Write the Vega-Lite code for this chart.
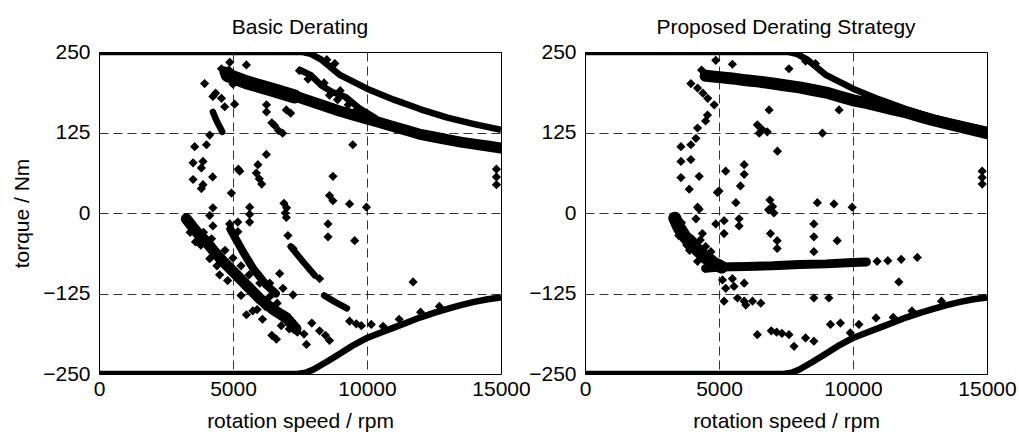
{
  "$schema": "https://vega.github.io/schema/vega-lite/v6.json",
  "background": "white",
  "padding": {"left": 11, "top": 16, "right": 10, "bottom": 2},
  "bounds": "flush",
  "spacing": 84,
  "config": {
    "font": "Liberation Sans",
    "view": {"stroke": "black", "strokeWidth": 1},
    "axis": {
      "domain": false, "ticks": false, "tickSize": 0, "labelFlush": false, "format": "d",
      "grid": true, "gridColor": "black", "gridDash": [9, 5], "gridWidth": 0.8, "gridOpacity": 1,
      "labelFontSize": 21, "labelColor": "black", "labelPadding": 9,
      "titleFontSize": 21, "titleFontWeight": "normal", "titleColor": "black"
    },
    "axisX": {"labelPadding": 4, "titlePadding": 11},
    "axisY": {"titlePadding": 10},
    "title": {"fontSize": 21, "fontWeight": "normal", "color": "black", "offset": 3}
  },
  "datasets": {
    "limits": [
      {"series": "upper", "rpm": 0, "torque": 250}, {"series": "upper", "rpm": 7600, "torque": 250},
      {"series": "upper", "rpm": 7900, "torque": 247}, {"series": "upper", "rpm": 8300, "torque": 238},
      {"series": "upper", "rpm": 9000, "torque": 214}, {"series": "upper", "rpm": 10000, "torque": 193},
      {"series": "upper", "rpm": 11000, "torque": 176}, {"series": "upper", "rpm": 12000, "torque": 161},
      {"series": "upper", "rpm": 13000, "torque": 148}, {"series": "upper", "rpm": 14000, "torque": 138},
      {"series": "upper", "rpm": 15000, "torque": 129},
      {"series": "lower", "rpm": 0, "torque": -250}, {"series": "lower", "rpm": 7400, "torque": -250},
      {"series": "lower", "rpm": 7700, "torque": -248}, {"series": "lower", "rpm": 8000, "torque": -243},
      {"series": "lower", "rpm": 8500, "torque": -231}, {"series": "lower", "rpm": 9000, "torque": -218},
      {"series": "lower", "rpm": 9500, "torque": -205}, {"series": "lower", "rpm": 10000, "torque": -194},
      {"series": "lower", "rpm": 10500, "torque": -186}, {"series": "lower", "rpm": 11000, "torque": -178},
      {"series": "lower", "rpm": 11500, "torque": -170}, {"series": "lower", "rpm": 12000, "torque": -162},
      {"series": "lower", "rpm": 12500, "torque": -155}, {"series": "lower", "rpm": 13000, "torque": -149},
      {"series": "lower", "rpm": 13500, "torque": -143}, {"series": "lower", "rpm": 14000, "torque": -138},
      {"series": "lower", "rpm": 14500, "torque": -134}, {"series": "lower", "rpm": 15000, "torque": -131}
    ],
    "bands": [
      {"panel": "L", "series": "derate", "rpm": 4700, "torque": 219}, {"panel": "L", "series": "derate", "rpm": 5000, "torque": 211},
      {"panel": "L", "series": "derate", "rpm": 5500, "torque": 204}, {"panel": "L", "series": "derate", "rpm": 6000, "torque": 198},
      {"panel": "L", "series": "derate", "rpm": 6500, "torque": 192}, {"panel": "L", "series": "derate", "rpm": 7000, "torque": 186},
      {"panel": "L", "series": "derate", "rpm": 7500, "torque": 179}, {"panel": "L", "series": "derate", "rpm": 8000, "torque": 172},
      {"panel": "L", "series": "derate", "rpm": 8500, "torque": 165}, {"panel": "L", "series": "derate", "rpm": 9000, "torque": 158},
      {"panel": "L", "series": "derate", "rpm": 9500, "torque": 152}, {"panel": "L", "series": "derate", "rpm": 10000, "torque": 146},
      {"panel": "L", "series": "derate", "rpm": 10500, "torque": 140}, {"panel": "L", "series": "derate", "rpm": 11000, "torque": 134},
      {"panel": "L", "series": "derate", "rpm": 11500, "torque": 128}, {"panel": "L", "series": "derate", "rpm": 12000, "torque": 122},
      {"panel": "L", "series": "derate", "rpm": 12500, "torque": 118}, {"panel": "L", "series": "derate", "rpm": 13000, "torque": 114},
      {"panel": "L", "series": "derate", "rpm": 13500, "torque": 110}, {"panel": "L", "series": "derate", "rpm": 14000, "torque": 107},
      {"panel": "L", "series": "derate", "rpm": 14500, "torque": 104}, {"panel": "L", "series": "derate", "rpm": 15000, "torque": 101},
      {"panel": "L", "series": "deratehead", "rpm": 4800, "torque": 214}, {"panel": "L", "series": "deratehead", "rpm": 5500, "torque": 203},
      {"panel": "L", "series": "deratehead", "rpm": 6500, "torque": 191}, {"panel": "L", "series": "deratehead", "rpm": 7300, "torque": 181},
      {"panel": "L", "series": "stripe", "rpm": 7500, "torque": 222}, {"panel": "L", "series": "stripe", "rpm": 7900, "torque": 214},
      {"panel": "L", "series": "stripe", "rpm": 8300, "torque": 198}, {"panel": "L", "series": "stripe", "rpm": 8700, "torque": 188},
      {"panel": "L", "series": "stripe", "rpm": 9200, "torque": 180}, {"panel": "L", "series": "stripe", "rpm": 9700, "torque": 163},
      {"panel": "L", "series": "stripe", "rpm": 10300, "torque": 148},
      {"panel": "L", "series": "arc", "rpm": 4250, "torque": 157}, {"panel": "L", "series": "arc", "rpm": 4400, "torque": 142},
      {"panel": "L", "series": "arc", "rpm": 4600, "torque": 126},
      {"panel": "L", "series": "ridgeA", "rpm": 3260, "torque": -9}, {"panel": "L", "series": "ridgeA", "rpm": 3500, "torque": -22},
      {"panel": "L", "series": "ridgeA", "rpm": 3700, "torque": -32}, {"panel": "L", "series": "ridgeA", "rpm": 4010, "torque": -45},
      {"panel": "L", "series": "ridgeA", "rpm": 4300, "torque": -60}, {"panel": "L", "series": "ridgeA", "rpm": 4600, "torque": -74},
      {"panel": "L", "series": "ridgeA", "rpm": 5100, "torque": -95}, {"panel": "L", "series": "ridgeA", "rpm": 5500, "torque": -112},
      {"panel": "L", "series": "ridgeA", "rpm": 6000, "torque": -133}, {"panel": "L", "series": "ridgeA", "rpm": 6500, "torque": -150},
      {"panel": "L", "series": "ridgeA", "rpm": 7000, "torque": -163}, {"panel": "L", "series": "ridgeA", "rpm": 7350, "torque": -180},
      {"panel": "L", "series": "ridgeB", "rpm": 4900, "torque": -25}, {"panel": "L", "series": "ridgeB", "rpm": 5100, "torque": -40},
      {"panel": "L", "series": "ridgeB", "rpm": 5370, "torque": -60}, {"panel": "L", "series": "ridgeB", "rpm": 5750, "torque": -86},
      {"panel": "L", "series": "ridgeB", "rpm": 6250, "torque": -112}, {"panel": "L", "series": "ridgeB", "rpm": 6600, "torque": -125},
      {"panel": "L", "series": "streak1", "rpm": 7150, "torque": -52}, {"panel": "L", "series": "streak1", "rpm": 7600, "torque": -75},
      {"panel": "L", "series": "streak1", "rpm": 8050, "torque": -97},
      {"panel": "L", "series": "streak2", "rpm": 8400, "torque": -128}, {"panel": "L", "series": "streak2", "rpm": 8800, "torque": -138},
      {"panel": "L", "series": "streak2", "rpm": 9250, "torque": -148},
      {"panel": "R", "series": "derate", "rpm": 4500, "torque": 213}, {"panel": "R", "series": "derate", "rpm": 5000, "torque": 211},
      {"panel": "R", "series": "derate", "rpm": 5500, "torque": 209}, {"panel": "R", "series": "derate", "rpm": 6000, "torque": 206},
      {"panel": "R", "series": "derate", "rpm": 6500, "torque": 204}, {"panel": "R", "series": "derate", "rpm": 7000, "torque": 201},
      {"panel": "R", "series": "derate", "rpm": 7500, "torque": 198}, {"panel": "R", "series": "derate", "rpm": 8000, "torque": 195},
      {"panel": "R", "series": "derate", "rpm": 8500, "torque": 191}, {"panel": "R", "series": "derate", "rpm": 9000, "torque": 187},
      {"panel": "R", "series": "derate", "rpm": 9500, "torque": 181}, {"panel": "R", "series": "derate", "rpm": 10000, "torque": 175},
      {"panel": "R", "series": "derate", "rpm": 10500, "torque": 171}, {"panel": "R", "series": "derate", "rpm": 11000, "torque": 166},
      {"panel": "R", "series": "derate", "rpm": 11500, "torque": 161}, {"panel": "R", "series": "derate", "rpm": 12000, "torque": 156},
      {"panel": "R", "series": "derate", "rpm": 12500, "torque": 150}, {"panel": "R", "series": "derate", "rpm": 13000, "torque": 144},
      {"panel": "R", "series": "derate", "rpm": 13500, "torque": 139}, {"panel": "R", "series": "derate", "rpm": 14000, "torque": 134},
      {"panel": "R", "series": "derate", "rpm": 14500, "torque": 129}, {"panel": "R", "series": "derate", "rpm": 15000, "torque": 124},
      {"panel": "R", "series": "hband", "rpm": 4500, "torque": -86}, {"panel": "R", "series": "hband", "rpm": 5000, "torque": -84},
      {"panel": "R", "series": "hband", "rpm": 6000, "torque": -83}, {"panel": "R", "series": "hband", "rpm": 7000, "torque": -82},
      {"panel": "R", "series": "hband", "rpm": 8000, "torque": -80}, {"panel": "R", "series": "hband", "rpm": 9000, "torque": -79},
      {"panel": "R", "series": "hband", "rpm": 10000, "torque": -77}, {"panel": "R", "series": "hband", "rpm": 10500, "torque": -76},
      {"panel": "R", "series": "curveA", "rpm": 3350, "torque": -8}, {"panel": "R", "series": "curveA", "rpm": 3500, "torque": -22},
      {"panel": "R", "series": "curveA", "rpm": 3700, "torque": -35}, {"panel": "R", "series": "curveA", "rpm": 4000, "torque": -50},
      {"panel": "R", "series": "curveA", "rpm": 4400, "torque": -65}, {"panel": "R", "series": "curveA", "rpm": 4800, "torque": -78},
      {"panel": "R", "series": "curveA", "rpm": 5100, "torque": -84}
    ],
    "pts": [
      {"panel": "L", "rpm": 4880, "torque": 234}, {"panel": "L", "rpm": 4570, "torque": 224}, {"panel": "L", "rpm": 5500, "torque": 230},
      {"panel": "L", "rpm": 4850, "torque": 222}, {"panel": "L", "rpm": 4750, "torque": 212}, {"panel": "L", "rpm": 5000, "torque": 200},
      {"panel": "L", "rpm": 3940, "torque": 201}, {"panel": "L", "rpm": 4350, "torque": 186},
      {"panel": "L", "rpm": 4250, "torque": 181}, {"panel": "L", "rpm": 4570, "torque": 178}, {"panel": "L", "rpm": 4690, "torque": 165},
      {"panel": "L", "rpm": 5060, "torque": 169}, {"panel": "L", "rpm": 6250, "torque": 168}, {"panel": "L", "rpm": 6250, "torque": 157},
      {"panel": "L", "rpm": 6990, "torque": 160}, {"panel": "L", "rpm": 7150, "torque": 155}, {"panel": "L", "rpm": 6550, "torque": 136},
      {"panel": "L", "rpm": 6700, "torque": 128}, {"panel": "L", "rpm": 6850, "torque": 124}, {"panel": "L", "rpm": 6450, "torque": 140},
      {"panel": "L", "rpm": 3570, "torque": 103}, {"panel": "L", "rpm": 4010, "torque": 106}, {"panel": "L", "rpm": 4130, "torque": 121},
      {"panel": "L", "rpm": 3510, "torque": 78}, {"panel": "L", "rpm": 3880, "torque": 80}, {"panel": "L", "rpm": 3820, "torque": 70},
      {"panel": "L", "rpm": 4240, "torque": 56}, {"panel": "L", "rpm": 3510, "torque": 52}, {"panel": "L", "rpm": 3820, "torque": 38},
      {"panel": "L", "rpm": 3880, "torque": 44}, {"panel": "L", "rpm": 5250, "torque": 65}, {"panel": "L", "rpm": 5200, "torque": 68},
      {"panel": "L", "rpm": 5930, "torque": 75}, {"panel": "L", "rpm": 5870, "torque": 62}, {"panel": "L", "rpm": 5980, "torque": 53},
      {"panel": "L", "rpm": 6070, "torque": 45}, {"panel": "L", "rpm": 4940, "torque": 31}, {"panel": "L", "rpm": 5620, "torque": 9},
      {"panel": "L", "rpm": 4250, "torque": 8}, {"panel": "L", "rpm": 6900, "torque": 15}, {"panel": "L", "rpm": 7000, "torque": 8},
      {"panel": "L", "rpm": 6950, "torque": 0}, {"panel": "L", "rpm": 6245, "torque": 91}, {"panel": "L", "rpm": 8730, "torque": 19},
      {"panel": "L", "rpm": 9350, "torque": 14}, {"panel": "L", "rpm": 9980, "torque": 9}, {"panel": "L", "rpm": 8730, "torque": 57},
      {"panel": "L", "rpm": 9470, "torque": 106}, {"panel": "L", "rpm": 8600, "torque": 27}, {"panel": "L", "rpm": 7480, "torque": 221},
      {"panel": "L", "rpm": 8500, "torque": 238}, {"panel": "L", "rpm": 8800, "torque": 232},
      {"panel": "L", "rpm": 9000, "torque": 190}, {"panel": "L", "rpm": 9300, "torque": 168}, {"panel": "L", "rpm": 9800, "torque": 152},
      {"panel": "L", "rpm": 8600, "torque": 183}, {"panel": "L", "rpm": 8900, "torque": 176}, {"panel": "L", "rpm": 9300, "torque": 176},
      {"panel": "L", "rpm": 9600, "torque": 160}, {"panel": "L", "rpm": 8400, "torque": 202}, {"panel": "L", "rpm": 7800, "torque": 208},
      {"panel": "L", "rpm": 14830, "torque": 68}, {"panel": "L", "rpm": 14830, "torque": 56}, {"panel": "L", "rpm": 14830, "torque": 44},
      {"panel": "L", "rpm": 4130, "torque": -4}, {"panel": "L", "rpm": 4250, "torque": -20}, {"panel": "L", "rpm": 4877, "torque": -17},
      {"panel": "L", "rpm": 5180, "torque": -14}, {"panel": "L", "rpm": 5180, "torque": -29}, {"panel": "L", "rpm": 5620, "torque": -14},
      {"panel": "L", "rpm": 5620, "torque": -2}, {"panel": "L", "rpm": 6990, "torque": -7}, {"panel": "L", "rpm": 7050, "torque": -35},
      {"panel": "L", "rpm": 7240, "torque": -55}, {"panel": "L", "rpm": 8545, "torque": -17}, {"panel": "L", "rpm": 8545, "torque": -37},
      {"panel": "L", "rpm": 9540, "torque": -43}, {"panel": "L", "rpm": 9350, "torque": -168}, {"panel": "L", "rpm": 9600, "torque": -172},
      {"panel": "L", "rpm": 9790, "torque": -175}, {"panel": "L", "rpm": 10160, "torque": -173}, {"panel": "L", "rpm": 10600, "torque": -176},
      {"panel": "L", "rpm": 8230, "torque": -183}, {"panel": "L", "rpm": 8450, "torque": -190}, {"panel": "L", "rpm": 8600, "torque": -198},
      {"panel": "L", "rpm": 7740, "torque": -204}, {"panel": "L", "rpm": 7940, "torque": -171}, {"panel": "L", "rpm": 6620, "torque": -196},
      {"panel": "L", "rpm": 6800, "torque": -175}, {"panel": "L", "rpm": 7100, "torque": -180}, {"panel": "L", "rpm": 7400, "torque": -185},
      {"panel": "L", "rpm": 7650, "torque": -188}, {"panel": "L", "rpm": 5740, "torque": -152}, {"panel": "L", "rpm": 6100, "torque": -165},
      {"panel": "L", "rpm": 5500, "torque": -158}, {"panel": "L", "rpm": 6865, "torque": -117}, {"panel": "L", "rpm": 7240, "torque": -127},
      {"panel": "L", "rpm": 6370, "torque": -130}, {"panel": "L", "rpm": 6000, "torque": -109}, {"panel": "L", "rpm": 6370, "torque": -109},
      {"panel": "L", "rpm": 6740, "torque": -94}, {"panel": "L", "rpm": 4130, "torque": -71}, {"panel": "L", "rpm": 8230, "torque": -102},
      {"panel": "L", "rpm": 11720, "torque": -107}, {"panel": "L", "rpm": 11200, "torque": -165}, {"panel": "L", "rpm": 12000, "torque": -154},
      {"panel": "L", "rpm": 12700, "torque": -145}, {"panel": "L", "rpm": 6450, "torque": -190}, {"panel": "L", "rpm": 4500, "torque": -96},
      {"panel": "L", "rpm": 4800, "torque": -105}, {"panel": "L", "rpm": 3600, "torque": -45}, {"panel": "L", "rpm": 3900, "torque": -30},
      {"panel": "L", "rpm": 3400, "torque": -30}, {"panel": "L", "rpm": 3800, "torque": -50}, {"panel": "L", "rpm": 4200, "torque": -40},
      {"panel": "L", "rpm": 4400, "torque": -82}, {"panel": "L", "rpm": 4700, "torque": -58}, {"panel": "L", "rpm": 5000, "torque": -70},
      {"panel": "L", "rpm": 5300, "torque": -82}, {"panel": "L", "rpm": 5600, "torque": -96}, {"panel": "L", "rpm": 5800, "torque": -122},
      {"panel": "L", "rpm": 6200, "torque": -145}, {"panel": "L", "rpm": 6650, "torque": -140}, {"panel": "L", "rpm": 5300, "torque": -128},
      {"panel": "L", "rpm": 5900, "torque": -150},
      {"panel": "R", "rpm": 3950, "torque": 201}, {"panel": "R", "rpm": 4200, "torque": 194}, {"panel": "R", "rpm": 4400, "torque": 186},
      {"panel": "R", "rpm": 4580, "torque": 178}, {"panel": "R", "rpm": 4880, "torque": 237}, {"panel": "R", "rpm": 5500, "torque": 231},
      {"panel": "R", "rpm": 4820, "torque": 168}, {"panel": "R", "rpm": 6870, "torque": 160}, {"panel": "R", "rpm": 9480, "torque": 160},
      {"panel": "R", "rpm": 4570, "torque": 152}, {"panel": "R", "rpm": 4500, "torque": 143}, {"panel": "R", "rpm": 4200, "torque": 132},
      {"panel": "R", "rpm": 4140, "torque": 116}, {"panel": "R", "rpm": 3580, "torque": 103}, {"panel": "R", "rpm": 3950, "torque": 106},
      {"panel": "R", "rpm": 3580, "torque": 80}, {"panel": "R", "rpm": 3950, "torque": 83}, {"panel": "R", "rpm": 4260, "torque": 57},
      {"panel": "R", "rpm": 3580, "torque": 55}, {"panel": "R", "rpm": 3890, "torque": 37}, {"panel": "R", "rpm": 6430, "torque": 137},
      {"panel": "R", "rpm": 6600, "torque": 130}, {"panel": "R", "rpm": 6800, "torque": 126}, {"panel": "R", "rpm": 6500, "torque": 124},
      {"panel": "R", "rpm": 7180, "torque": 96}, {"panel": "R", "rpm": 8860, "torque": 124}, {"panel": "R", "rpm": 5250, "torque": 65},
      {"panel": "R", "rpm": 5940, "torque": 75}, {"panel": "R", "rpm": 5940, "torque": 60}, {"panel": "R", "rpm": 5800, "torque": 42},
      {"panel": "R", "rpm": 4940, "torque": 32}, {"panel": "R", "rpm": 5000, "torque": 34}, {"panel": "R", "rpm": 5630, "torque": 16},
      {"panel": "R", "rpm": 4200, "torque": 9}, {"panel": "R", "rpm": 6900, "torque": 20}, {"panel": "R", "rpm": 7000, "torque": 10},
      {"panel": "R", "rpm": 7050, "torque": 0}, {"panel": "R", "rpm": 6850, "torque": 5}, {"panel": "R", "rpm": 8670, "torque": 16},
      {"panel": "R", "rpm": 9290, "torque": 14}, {"panel": "R", "rpm": 9970, "torque": 9}, {"panel": "R", "rpm": 14820, "torque": 65},
      {"panel": "R", "rpm": 14820, "torque": 55}, {"panel": "R", "rpm": 14820, "torque": 45}, {"panel": "R", "rpm": 7610, "torque": 224},
      {"panel": "R", "rpm": 8230, "torque": 236}, {"panel": "R", "rpm": 8600, "torque": 232}, {"panel": "R", "rpm": 4350, "torque": 222},
      {"panel": "R", "rpm": 4260, "torque": 6}, {"panel": "R", "rpm": 4140, "torque": -9}, {"panel": "R", "rpm": 4380, "torque": -32},
      {"panel": "R", "rpm": 4880, "torque": -17}, {"panel": "R", "rpm": 5190, "torque": -12}, {"panel": "R", "rpm": 5190, "torque": -32},
      {"panel": "R", "rpm": 5750, "torque": -9}, {"panel": "R", "rpm": 5750, "torque": -20}, {"panel": "R", "rpm": 6920, "torque": -32},
      {"panel": "R", "rpm": 7170, "torque": -43}, {"panel": "R", "rpm": 7170, "torque": -55}, {"panel": "R", "rpm": 8540, "torque": -17},
      {"panel": "R", "rpm": 8540, "torque": -37}, {"panel": "R", "rpm": 8540, "torque": -60}, {"panel": "R", "rpm": 9410, "torque": -43},
      {"panel": "R", "rpm": 11710, "torque": -107}, {"panel": "R", "rpm": 5130, "torque": -104}, {"panel": "R", "rpm": 5500, "torque": -102},
      {"panel": "R", "rpm": 5940, "torque": -109}, {"panel": "R", "rpm": 5250, "torque": -117}, {"panel": "R", "rpm": 5560, "torque": -114},
      {"panel": "R", "rpm": 5190, "torque": -137}, {"panel": "R", "rpm": 5690, "torque": -132}, {"panel": "R", "rpm": 5940, "torque": -137},
      {"panel": "R", "rpm": 6250, "torque": -137}, {"panel": "R", "rpm": 6560, "torque": -140}, {"panel": "R", "rpm": 6000, "torque": -143},
      {"panel": "R", "rpm": 8540, "torque": -132}, {"panel": "R", "rpm": 9100, "torque": -132}, {"panel": "R", "rpm": 6430, "torque": -189},
      {"panel": "R", "rpm": 6950, "torque": -183}, {"panel": "R", "rpm": 7150, "torque": -185}, {"panel": "R", "rpm": 7350, "torque": -187},
      {"panel": "R", "rpm": 7610, "torque": -189}, {"panel": "R", "rpm": 7800, "torque": -207}, {"panel": "R", "rpm": 8230, "torque": -194},
      {"panel": "R", "rpm": 8540, "torque": -199}, {"panel": "R", "rpm": 9160, "torque": -173}, {"panel": "R", "rpm": 9530, "torque": -171},
      {"panel": "R", "rpm": 9900, "torque": -186}, {"panel": "R", "rpm": 10220, "torque": -173}, {"panel": "R", "rpm": 10860, "torque": -163},
      {"panel": "R", "rpm": 10900, "torque": -75}, {"panel": "R", "rpm": 11300, "torque": -74}, {"panel": "R", "rpm": 11800, "torque": -72},
      {"panel": "R", "rpm": 12400, "torque": -69}, {"panel": "R", "rpm": 3900, "torque": -58}, {"panel": "R", "rpm": 4200, "torque": -75},
      {"panel": "R", "rpm": 4500, "torque": -52}, {"panel": "R", "rpm": 4700, "torque": -60}, {"panel": "R", "rpm": 4300, "torque": -42},
      {"panel": "R", "rpm": 4000, "torque": -40}, {"panel": "R", "rpm": 4600, "torque": -72}, {"panel": "R", "rpm": 11500, "torque": -162},
      {"panel": "R", "rpm": 12200, "torque": -152}, {"panel": "R", "rpm": 13300, "torque": -137},
      {"panel": "R", "rpm": 3500, "torque": -35}, {"panel": "R", "rpm": 3800, "torque": -50}, {"panel": "R", "rpm": 4100, "torque": -57},
      {"panel": "R", "rpm": 4400, "torque": -72}, {"panel": "R", "rpm": 4250, "torque": -64}, {"panel": "R", "rpm": 4750, "torque": -70},
      {"panel": "R", "rpm": 3600, "torque": -15}, {"panel": "R", "rpm": 4600, "torque": -84}
    ]
  },
  "hconcat": [
    {
      "width": 402, "height": 322,
      "title": "Basic Derating",
      "layer": [
        {
          "data": {"name": "limits"},
          "mark": {"type": "line", "color": "black", "strokeWidth": 6.5, "strokeCap": "butt", "strokeJoin": "round", "clip": true},
          "encoding": {
            "x": {"field": "rpm", "type": "quantitative", "scale": {"domain": [0, 15000], "nice": false}, "axis": {"values": [0, 5000, 10000, 15000], "title": "rotation speed / rpm"}},
            "y": {"field": "torque", "type": "quantitative", "scale": {"domain": [-250, 250], "nice": false}, "axis": {"values": [-250, -125, 0, 125, 250], "title": "torque / Nm"}},
            "detail": {"field": "series"}
          }
        },
        {
          "data": {"name": "bands"},
          "transform": [{"filter": "datum.panel == 'L' && datum.series == 'deratehead'"}],
          "mark": {"type": "line", "color": "black", "strokeWidth": 14, "strokeCap": "round", "strokeJoin": "round", "clip": true},
          "encoding": {"x": {"field": "rpm", "type": "quantitative"}, "y": {"field": "torque", "type": "quantitative"}, "detail": {"field": "series"}}
        },
        {
          "data": {"name": "bands"},
          "transform": [{"filter": "datum.panel == 'L' && (datum.series == 'derate' || datum.series == 'ridgeA')"}],
          "mark": {"type": "line", "color": "black", "strokeWidth": 11, "strokeCap": "round", "strokeJoin": "round", "clip": true},
          "encoding": {"x": {"field": "rpm", "type": "quantitative"}, "y": {"field": "torque", "type": "quantitative"}, "detail": {"field": "series"}}
        },
        {
          "data": {"name": "bands"},
          "transform": [{"filter": "datum.panel == 'L' && datum.series == 'ridgeB'"}],
          "mark": {"type": "line", "color": "black", "strokeWidth": 8, "strokeCap": "round", "strokeJoin": "round", "clip": true},
          "encoding": {"x": {"field": "rpm", "type": "quantitative"}, "y": {"field": "torque", "type": "quantitative"}, "detail": {"field": "series"}}
        },
        {
          "data": {"name": "bands"},
          "transform": [{"filter": "datum.panel == 'L' && (datum.series == 'stripe' || datum.series == 'arc' || datum.series == 'streak1' || datum.series == 'streak2')"}],
          "mark": {"type": "line", "color": "black", "strokeWidth": 6.5, "strokeCap": "round", "strokeJoin": "round", "clip": true},
          "encoding": {"x": {"field": "rpm", "type": "quantitative"}, "y": {"field": "torque", "type": "quantitative"}, "detail": {"field": "series"}}
        },
        {
          "data": {"name": "pts"},
          "transform": [{"filter": "datum.panel == 'L'"}],
          "mark": {"type": "point", "shape": "diamond", "filled": true, "color": "black", "opacity": 1, "size": 85, "clip": true},
          "encoding": {"x": {"field": "rpm", "type": "quantitative"}, "y": {"field": "torque", "type": "quantitative"}}
        }
      ]
    },
    {
      "width": 402, "height": 322,
      "title": "Proposed Derating Strategy",
      "layer": [
        {
          "data": {"name": "limits"},
          "mark": {"type": "line", "color": "black", "strokeWidth": 6.5, "strokeCap": "butt", "strokeJoin": "round", "clip": true},
          "encoding": {
            "x": {"field": "rpm", "type": "quantitative", "scale": {"domain": [0, 15000], "nice": false}, "axis": {"values": [0, 5000, 10000, 15000], "title": "rotation speed / rpm"}},
            "y": {"field": "torque", "type": "quantitative", "scale": {"domain": [-250, 250], "nice": false}, "axis": {"values": [-250, -125, 0, 125, 250], "title": null}},
            "detail": {"field": "series"}
          }
        },
        {
          "data": {"name": "bands"},
          "transform": [{"filter": "datum.panel == 'R' && datum.series == 'derate'"}],
          "mark": {"type": "line", "color": "black", "strokeWidth": 12, "strokeCap": "round", "strokeJoin": "round", "clip": true},
          "encoding": {"x": {"field": "rpm", "type": "quantitative"}, "y": {"field": "torque", "type": "quantitative"}, "detail": {"field": "series"}}
        },
        {
          "data": {"name": "bands"},
          "transform": [{"filter": "datum.panel == 'R' && datum.series == 'curveA'"}],
          "mark": {"type": "line", "color": "black", "strokeWidth": 13, "strokeCap": "round", "strokeJoin": "round", "clip": true},
          "encoding": {"x": {"field": "rpm", "type": "quantitative"}, "y": {"field": "torque", "type": "quantitative"}, "detail": {"field": "series"}}
        },
        {
          "data": {"name": "bands"},
          "transform": [{"filter": "datum.panel == 'R' && datum.series == 'hband'"}],
          "mark": {"type": "line", "color": "black", "strokeWidth": 9, "strokeCap": "round", "strokeJoin": "round", "clip": true},
          "encoding": {"x": {"field": "rpm", "type": "quantitative"}, "y": {"field": "torque", "type": "quantitative"}, "detail": {"field": "series"}}
        },
        {
          "data": {"name": "pts"},
          "transform": [{"filter": "datum.panel == 'R'"}],
          "mark": {"type": "point", "shape": "diamond", "filled": true, "color": "black", "opacity": 1, "size": 85, "clip": true},
          "encoding": {"x": {"field": "rpm", "type": "quantitative"}, "y": {"field": "torque", "type": "quantitative"}}
        }
      ]
    }
  ]
}
